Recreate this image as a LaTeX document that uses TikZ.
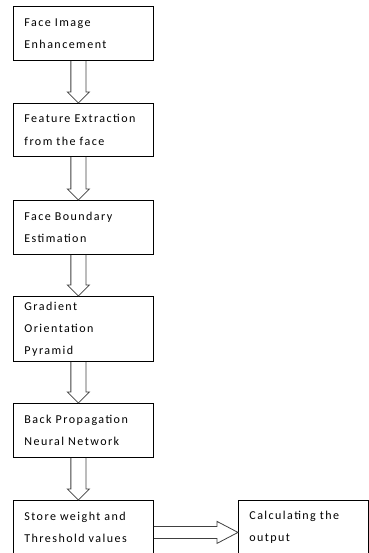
\documentclass[tikz,border=0pt]{standalone}
\usepackage{fontspec}
\setmainfont{Carlito}[LetterSpace=12]
\usetikzlibrary{calc}
\tikzset{
  stage/.style={draw,line width=0.8pt,anchor=north west,minimum width=4.9cm,
    text width=4.13cm,inner xsep=0.385cm,align=left,
    font=\fontsize{12}{22}\selectfont},
  hollow/.style={draw=black!75,line width=0.8pt,line join=miter}
}

\begin{document}
\begin{tikzpicture}
\useasboundingbox (0.000,0.000) rectangle (12.915,-19.355);
\node[stage,minimum height=1.890cm] (enhance) at (0.455,-0.210) {Face Image\\Enhancement};
\node[stage,minimum height=1.855cm] (extract) at (0.455,-3.605) {Feature Extraction\\from the face};
\node[stage,minimum height=1.890cm] (boundary) at (0.455,-7.000) {Face Boundary\\Estimation};
\node[stage,minimum height=2.275cm] (pyramid) at (0.455,-10.360) {Gradient\\Orientation\\Pyramid};
\node[stage,minimum height=1.890cm] (bpnn) at (0.455,-14.105) {Back Propagation\\Neural Network};
\node[stage,minimum height=1.890cm] (store) at (0.455,-17.500) {Store weight and\\Threshold values};
\node[stage,minimum height=1.890cm,minimum width=4.55cm,text width=3.78cm] (output) at (8.330,-17.500) {Calculating the\\output};
\foreach \a/\b in {enhance/extract,extract/boundary,boundary/pyramid,pyramid/bpnn,bpnn/store}
  \draw[hollow] ($(\a.south)+(-0.438,0)$) -- ($(\b.north)+(-0.438,0.385)$)
    -- ($(\b.north)+(-0.560,0.385)$) -- ($(\b.north)+(-0.175,0)$)
    -- ($(\b.north)+(0.210,0.385)$) -- ($(\b.north)+(0.088,0.385)$)
    -- ($(\a.south)+(0.088,0)$);
\draw[hollow] ($(store.east)+(0,0.035)$) -- ($(output.west)+(-0.735,0.035)$)
  -- ($(output.west)+(-0.735,0.210)$) -- ($(output.west)+(0,-0.175)$)
  -- ($(output.west)+(-0.735,-0.560)$) -- ($(output.west)+(-0.735,-0.385)$)
  -- ($(store.east)+(0,-0.385)$);
\end{tikzpicture}
\end{document}
